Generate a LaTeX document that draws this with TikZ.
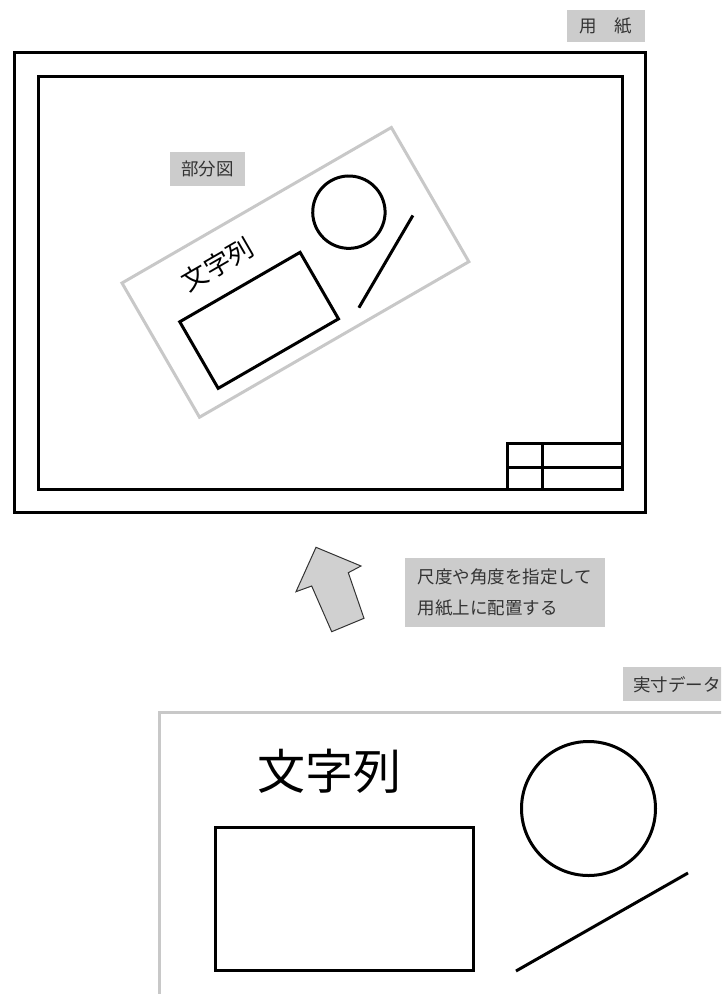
\documentclass[tikz,border=0pt]{standalone}
\usepackage{fontspec}
\setmainfont{Noto Sans CJK JP}
\definecolor{labelgray}{RGB}{204,204,204}
\definecolor{framegray}{RGB}{200,200,200}
\definecolor{labeltext}{RGB}{51,51,51}
\definecolor{arrowfill}{RGB}{208,208,208}
\tikzset{
  blackline/.style={draw=black, line width=3pt},
  grayframe/.style={draw=framegray, line width=3pt},
  labelbox/.style={fill=labelgray, text=labeltext, inner sep=0pt,
    font=\fontsize{17.5}{31}\selectfont},
  bigtext/.style={text=black, inner sep=0pt, font=\fontsize{48}{52}\selectfont},
}
\newcommand\drawrealdata[1]{%
  \draw[grayframe] (0,0) rectangle (576,287);
  \draw[blackline] (56.7,115.7) rectangle (314,258);
  \node[bigtext, transform shape] (#1text) at (170,59) {文字列};
  \draw[blackline] (429.5,96.5) circle (67);
  \coordinate (#1la) at (357,259);
  \coordinate (#1lb) at (529,161);
  \draw[blackline] (#1la) -- (#1lb);
}
\begin{document}
\begin{tikzpicture}[x=1pt, y=-1pt]
  \clip (0,0) rectangle (721,994);
  % paper
  \draw[blackline] (14.5,52.5) rectangle (645.5,512);
  \draw[blackline] (38.5,76.5) rectangle (622,489);
  % title block
  \draw[blackline] (622,443) -- (507,443) -- (507,489);
  \draw[blackline] (507,467) -- (622,467);
  \draw[blackline] (542,443) -- (542,489);
  % labels
  \node[labelbox, minimum width=78pt, minimum height=32pt] (paper) at (606,26) {用　紙};
  \node[labelbox, minimum width=75pt, minimum height=34pt] (partlabel) at (207.5,169) {部分図};
  \node[labelbox, minimum width=200pt, minimum height=69pt, align=left] (instr) at (505,592.5) {尺度や角度を指定して\\用紙上に配置する};
  \node[labelbox, anchor=west, minimum height=34pt, inner xsep=10pt, text depth=0pt] (reallabel) at (623,684) {実寸データ};
  % part view (scaled, rotated)
  \begin{scope}[shift={(122,283)}, rotate=30, scale=0.54]
    \drawrealdata{part}
  \end{scope}
  % real data
  \begin{scope}[shift={(159,712)}]
    \drawrealdata{real}
  \end{scope}
  % arrow
  \draw[fill=arrowfill, draw=labeltext, line width=1pt, line join=miter]
    (316,547.3) -- (361,566) -- (348.3,572.7) -- (364,618.3) -- (331.7,631.7)
    -- (311.7,586) -- (296,591.7) -- cycle;
\end{tikzpicture}
\end{document}
